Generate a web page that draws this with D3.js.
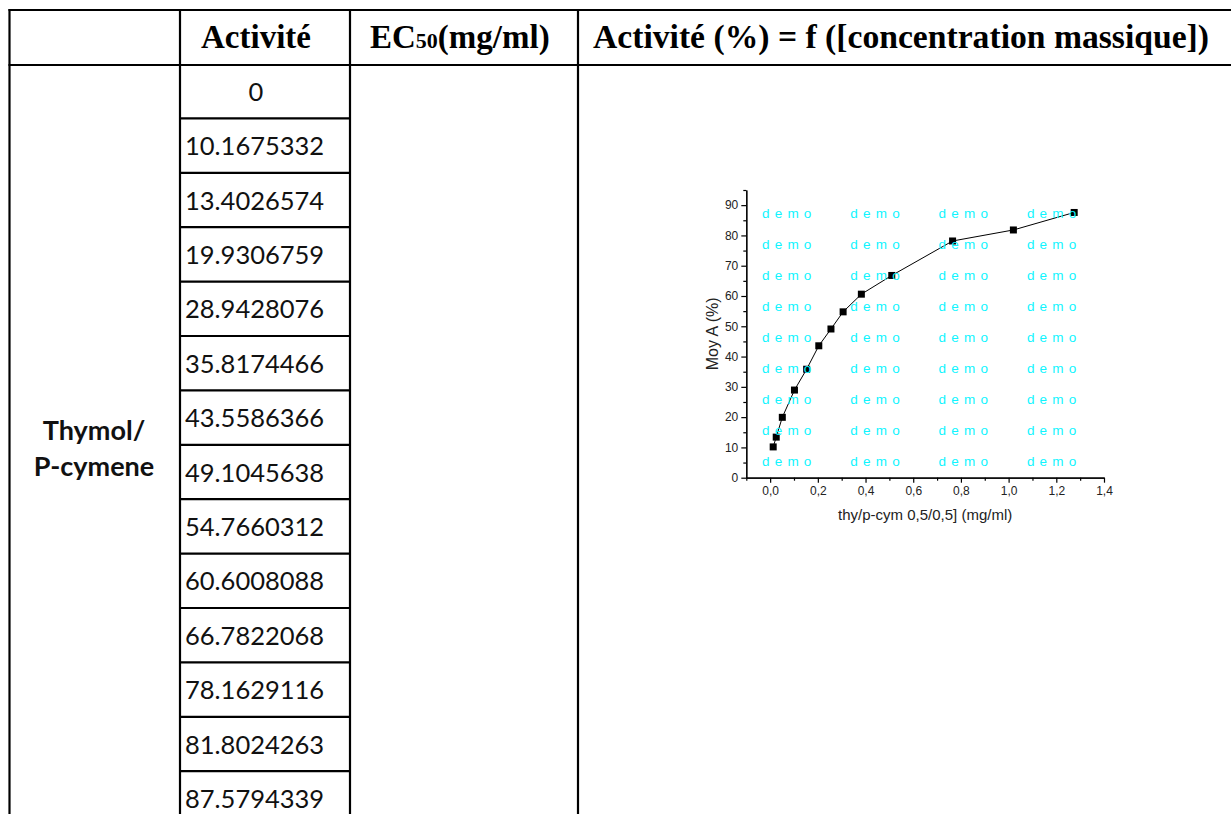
<!DOCTYPE html>
<html>
<head>
<meta charset="utf-8">
<script src="https://cdn.jsdelivr.net/npm/d3@7"></script>
<style>
  body { margin: 0; background: #fff; }
  svg { display: block; }
</style>
</head>
<body>
<div id="chart"></div>
<script>
// table values (Activité column)
const activite = [0, 10.1675332, 13.4026574, 19.9306759, 28.9428076, 35.8174466, 43.5586366,
  49.1045638, 54.7660312, 60.6008088, 66.7822068, 78.1629116, 81.8024263, 87.5794339];
// concentrations (mg/ml) of the plotted points, one per non-zero activity
const concentration = [0.01275, 0.0255, 0.051, 0.102, 0.153, 0.204, 0.255, 0.306, 0.3825,
  0.51, 0.765, 1.02, 1.275];
const headers = ["Activité", "EC", "Activité (%) = f ([concentration massique])"];
const rowLabel = ["Thymol/", "P-cymene"];
const xTicks = [0, 0.2, 0.4, 0.6, 0.8, 1.0, 1.2, 1.4];
const xMinor = [-0.1, 0.1, 0.3, 0.5, 0.7, 0.9, 1.1, 1.3];
const yTicks = [0, 10, 20, 30, 40, 50, 60, 70, 80, 90];
const yMinor = [5, 15, 25, 35, 45, 55, 65, 75, 85, 95];

const W = 1231, H = 814;
const svg = d3.select("#chart").append("svg").attr("width", W).attr("height", H);
svg.append("rect").attr("width", W).attr("height", H).attr("fill", "#fff");

// ---- table ----
const colX = [9.5, 180, 350, 578];
const headTop = 10, headBot = 65, firstRow = 118.4, rowH = 54.4;
const table = svg.append("g").attr("stroke", "#000").attr("stroke-width", 2.2);
table.append("line").attr("x1", colX[0] - 1).attr("x2", W).attr("y1", headTop).attr("y2", headTop);
table.append("line").attr("x1", colX[0] - 1).attr("x2", W).attr("y1", headBot).attr("y2", headBot);
colX.forEach(x => table.append("line").attr("x1", x).attr("x2", x).attr("y1", headTop - 1).attr("y2", H));

// row boundaries in Activité column
const rowTops = activite.map((d, i) => i === 0 ? headBot : firstRow + (i - 1) * rowH);
rowTops.slice(1).forEach(y => table.append("line")
  .attr("x1", colX[1]).attr("x2", colX[2]).attr("y1", y).attr("y2", y));

const serif = "'Liberation Serif', 'Times New Roman', serif";
svg.append("text").attr("x", 256).attr("y", 48).attr("text-anchor", "middle")
  .attr("font-family", serif).attr("font-weight", "bold").attr("font-size", 33)
  .text(headers[0]);
const ec = svg.append("text").attr("x", 370).attr("y", 48)
  .attr("font-family", serif).attr("font-weight", "bold").attr("font-size", 33);
ec.append("tspan").text(headers[1]);
ec.append("tspan").attr("font-size", 22).text("50");
ec.append("tspan").text("(mg/ml)");
svg.append("text").attr("x", 593).attr("y", 48)
  .attr("font-family", serif).attr("font-weight", "bold").attr("font-size", 33)
  .attr("textLength", 616).attr("lengthAdjust", "spacingAndGlyphs")
  .text(headers[2]);

const sans = "Lato, 'Open Sans', sans-serif";
svg.selectAll("text.val").data(activite).enter().append("text")
  .attr("class", "val")
  .attr("x", (d, i) => i === 0 ? 256 : 185)
  .attr("text-anchor", (d, i) => i === 0 ? "middle" : "start")
  .attr("y", (d, i) => (i === 0 ? (headBot + firstRow) / 2 : rowTops[i] + rowH / 2) + 9.5)
  .attr("font-family", sans).attr("font-size", 25.5).attr("fill", "#111")
  .text(d => String(d));

svg.selectAll("text.lab").data(rowLabel).enter().append("text")
  .attr("class", "lab")
  .attr("x", 94).attr("text-anchor", "middle")
  .attr("y", (d, i) => 440 + i * 36)
  .attr("font-family", sans).attr("font-weight", "bold").attr("font-size", 27).attr("fill", "#111")
  .text(d => d);

// ---- chart ----
const x = d3.scaleLinear().domain([-0.1, 1.4]).range([746.3, 1104]);
const y = d3.scaleLinear().domain([0, 95]).range([477.7, 190]);
const fmt = d => d3.format(".1f")(d).replace(".", ",");
const tickFont = "'Liberation Sans', Arial, sans-serif";

const plot = svg.append("g");
plot.append("g").attr("transform", `translate(${x(-0.1)},0)`)
  .call(d3.axisLeft(y).tickValues(yTicks).tickSize(5).tickSizeOuter(0).tickPadding(3));
plot.append("g").attr("transform", `translate(${x(-0.1)},0)`)
  .call(d3.axisLeft(y).tickValues(yMinor).tickSize(3).tickSizeOuter(0).tickFormat(""));
plot.append("g").attr("transform", `translate(0,${y(0)})`)
  .call(d3.axisBottom(x).tickValues(xTicks).tickSize(5).tickSizeOuter(0).tickPadding(4).tickFormat(fmt));
plot.append("g").attr("transform", `translate(0,${y(0)})`)
  .call(d3.axisBottom(x).tickValues(xMinor).tickSize(3).tickSizeOuter(0).tickFormat(""));
plot.selectAll(".tick text").attr("font-family", tickFont).attr("font-size", 12).attr("fill", "#222");
plot.selectAll(".domain, .tick line").attr("stroke", "#000").attr("stroke-width", 1.2);

plot.append("text").attr("transform", `translate(718,${(y(0) + y(95)) / 2}) rotate(-90)`)
  .attr("text-anchor", "middle").attr("font-family", tickFont).attr("font-size", 16).attr("fill", "#222")
  .text("Moy A (%)");
plot.append("text").attr("x", (x(-0.1) + x(1.4)) / 2).attr("y", 520)
  .attr("text-anchor", "middle").attr("font-family", tickFont).attr("font-size", 15).attr("fill", "#222")
  .text("thy/p-cym 0,5/0,5] (mg/ml)");

const pts = concentration.map((c, i) => ({ c: c, a: activite[i + 1] }));
plot.append("path").datum(pts)
  .attr("fill", "none").attr("stroke", "#000").attr("stroke-width", 1)
  .attr("d", d3.line().x(d => x(d.c)).y(d => y(d.a)));
plot.selectAll("rect.pt").data(pts).enter().append("rect")
  .attr("class", "pt")
  .attr("x", d => x(d.c) - 3.5).attr("y", d => y(d.a) - 3.5)
  .attr("width", 7).attr("height", 7).attr("fill", "#000");

// "demo" watermark grid
const wm = plot.append("g").attr("font-family", tickFont).attr("font-size", 13.5)
  .attr("fill", "#0ff5ff").attr("letter-spacing", 5.2);
for (let r = 0; r < 9; r++) {
  for (let c = 0; c < 4; c++) {
    wm.append("text").attr("x", 762 + c * 88.3).attr("y", 217.5 + r * 31).text("demo");
  }
}
</script>
</body>
</html>
